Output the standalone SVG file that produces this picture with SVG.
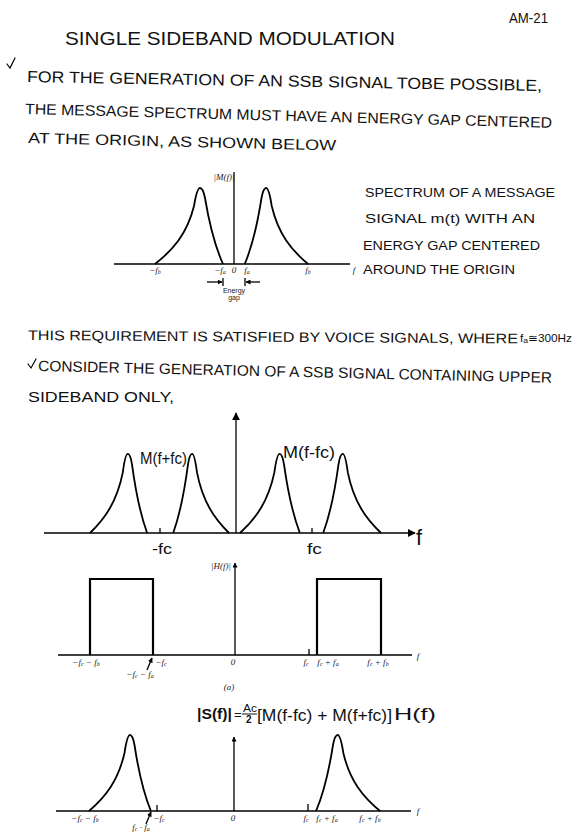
<svg xmlns="http://www.w3.org/2000/svg" width="580" height="838" viewBox="0 0 580 838">
<style>
.hw{font-family:"Liberation Sans","DejaVu Sans",sans-serif;fill:#111;}
.lb{font-family:"Liberation Serif","DejaVu Serif",serif;font-style:italic;font-size:9px;fill:#222;text-anchor:middle;}
.sm{font-family:"Liberation Sans","DejaVu Sans",sans-serif;font-size:7px;fill:#222;text-anchor:middle;}
.ax{stroke:#000;stroke-width:1.3;fill:none;}
.cv{stroke:#000;stroke-width:1.8;fill:none;}
.rc{stroke:#000;stroke-width:2.2;fill:none;}
.ck{stroke:#000;stroke-width:1.2;fill:none;stroke-linecap:round;}
</style>
<defs>
<path id="lobe" vector-effect="non-scaling-stroke" d="M0,0 C18,-14 32,-30 39,-58 C41,-70 43,-76 45,-76 C47,-76 49,-71 50,-66 C53,-48 59,-20 68,0"/>
<marker id="ah" viewBox="0 0 10 10" refX="9" refY="5" markerWidth="8" markerHeight="8" markerUnits="userSpaceOnUse" orient="auto"><path d="M0,0 L10,5 L0,10 z" fill="#000"/></marker>
<marker id="ahs" viewBox="0 0 10 10" refX="9" refY="5" markerWidth="5" markerHeight="5" markerUnits="userSpaceOnUse" orient="auto"><path d="M0,0 L10,5 L0,10 z" fill="#000"/></marker>
</defs>

<g id="header">
<text class="hw" x="509" y="23" font-size="14" textLength="39" lengthAdjust="spacingAndGlyphs">AM-21</text>
<text class="hw" x="65" y="45" font-size="19" textLength="330" lengthAdjust="spacingAndGlyphs">SINGLE SIDEBAND MODULATION</text>
</g>

<g id="intro">
<path class="ck" d="M7,64 L10,68 L15,58"/>
<text class="hw" x="27" y="82" font-size="16" textLength="515" lengthAdjust="spacingAndGlyphs" transform="rotate(1 27 82)">FOR THE GENERATION OF AN SSB SIGNAL TOBE POSSIBLE,</text>
<text class="hw" x="25" y="114" font-size="15" textLength="527" lengthAdjust="spacingAndGlyphs" transform="rotate(1.5 25 114)">THE MESSAGE SPECTRUM MUST HAVE AN ENERGY GAP CENTERED</text>
<text class="hw" x="28" y="143" font-size="15" textLength="308" lengthAdjust="spacingAndGlyphs" transform="rotate(1.4 28 143)">AT THE ORIGIN, AS SHOWN BELOW</text>
</g>

<g id="message-spectrum">
<line class="ax" x1="114" y1="264" x2="350" y2="264"/>
<line class="ax" x1="234" y1="172" x2="234" y2="264"/>
<use href="#lobe" class="cv" transform="translate(155,264)"/>
<use href="#lobe" class="cv" transform="translate(308,264) scale(-0.93,1)"/>
<text class="lb" x="224" y="180">|M(f)|</text>
<text class="lb" x="155" y="273">−f<tspan font-size="6" dy="1">b</tspan></text>
<text class="lb" x="220" y="273">−f<tspan font-size="6" dy="1">a</tspan></text>
<text class="lb" x="234" y="273">0</text>
<text class="lb" x="247" y="273">f<tspan font-size="6" dy="1">a</tspan></text>
<text class="lb" x="308" y="273">f<tspan font-size="6" dy="1">b</tspan></text>
<text class="lb" x="354" y="273">f</text>
<line class="ax" x1="207" y1="282" x2="222" y2="282" stroke-width="0.9" marker-end="url(#ahs)"/>
<line class="ax" x1="223" y1="278" x2="223" y2="286" stroke-width="0.9"/>
<line class="ax" x1="260" y1="282" x2="246" y2="282" stroke-width="0.9" marker-end="url(#ahs)"/>
<line class="ax" x1="245" y1="278" x2="245" y2="286" stroke-width="0.9"/>
<text class="sm" x="234" y="293">Energy</text>
<text class="sm" x="234" y="300">gap</text>
</g>

<g id="spectrum-note">
<text class="hw" x="365" y="197" font-size="12.5" textLength="190" lengthAdjust="spacingAndGlyphs">SPECTRUM OF A MESSAGE</text>
<text class="hw" x="365" y="223" font-size="12.5" textLength="170" lengthAdjust="spacingAndGlyphs">SIGNAL m(t) WITH AN</text>
<text class="hw" x="363" y="250" font-size="12.5" textLength="177" lengthAdjust="spacingAndGlyphs">ENERGY GAP CENTERED</text>
<text class="hw" x="363" y="274" font-size="12.5" textLength="152" lengthAdjust="spacingAndGlyphs">AROUND THE ORIGIN</text>
</g>

<g id="requirement">
<text class="hw" x="28" y="340" font-size="14" textLength="490" lengthAdjust="spacingAndGlyphs" transform="rotate(0.4 28 340)">THIS REQUIREMENT IS SATISFIED BY VOICE SIGNALS, WHERE</text>
<text class="hw" x="520" y="342" font-size="11" textLength="52" lengthAdjust="spacingAndGlyphs">f<tspan font-size="8" dy="1">a</tspan><tspan dy="-1">≅300Hz</tspan></text>
<path class="ck" d="M28,364 L31,368 L36,359"/>
<text class="hw" x="38" y="371" font-size="15" textLength="514" lengthAdjust="spacingAndGlyphs" transform="rotate(1.3 38 371)">CONSIDER THE GENERATION OF A SSB SIGNAL CONTAINING UPPER</text>
<text class="hw" x="28" y="402" font-size="14" textLength="146" lengthAdjust="spacingAndGlyphs">SIDEBAND ONLY,</text>
</g>

<g id="modulated-spectrum">
<line class="ax" x1="44" y1="533" x2="415" y2="533" marker-end="url(#ah)"/>
<line class="ax" x1="236" y1="533" x2="236" y2="413" stroke-width="1.6" marker-end="url(#ah)"/>
<line class="ax" x1="160" y1="528" x2="160" y2="533"/>
<line class="ax" x1="312" y1="528" x2="312" y2="533"/>
<use href="#lobe" class="cv" transform="translate(90,533) scale(0.84,1.04)"/>
<use href="#lobe" class="cv" transform="translate(229,533) scale(-0.82,1.04)"/>
<use href="#lobe" class="cv" transform="translate(240,533) scale(0.88,1.04)"/>
<use href="#lobe" class="cv" transform="translate(381,533) scale(-0.85,1.04)"/>
<text class="hw" x="140" y="464" font-size="16" textLength="47" lengthAdjust="spacingAndGlyphs">M(f+fc)</text>
<text class="hw" x="283" y="458" font-size="16" textLength="52" lengthAdjust="spacingAndGlyphs">M(f-fc)</text>
<text class="hw" x="152" y="554" font-size="14" textLength="20" lengthAdjust="spacingAndGlyphs">-fc</text>
<text class="hw" x="307" y="554" font-size="14" textLength="15" lengthAdjust="spacingAndGlyphs">fc</text>
<text class="hw" x="416" y="545" font-size="22">f</text>
</g>

<g id="filter-response">
<line class="ax" x1="58" y1="655" x2="412" y2="655"/>
<line class="ax" x1="235" y1="655" x2="235" y2="563" marker-end="url(#ahs)"/>
<line class="ax" x1="309" y1="649" x2="309" y2="655"/>
<path class="rc" d="M90,655 V579 H153 V655"/>
<path class="rc" d="M317,655 V579 H381 V655"/>
<text class="lb" x="221" y="569">|H(f)|</text>
<text class="lb" x="86" y="665">−f<tspan font-size="6" dy="1">c</tspan><tspan dy="-1"> − f</tspan><tspan font-size="6" dy="1">b</tspan></text>
<text class="lb" x="140" y="677">−f<tspan font-size="6" dy="1">c</tspan><tspan dy="-1"> − f</tspan><tspan font-size="6" dy="1">a</tspan></text>
<line class="ax" x1="147" y1="670" x2="152" y2="658" stroke-width="0.8" marker-end="url(#ahs)"/>
<text class="lb" x="161" y="665">−f<tspan font-size="6" dy="1">c</tspan></text>
<text class="lb" x="233" y="665">0</text>
<text class="lb" x="306" y="665">f<tspan font-size="6" dy="1">c</tspan></text>
<text class="lb" x="328" y="665">f<tspan font-size="6" dy="1">c</tspan><tspan dy="-1"> + f</tspan><tspan font-size="6" dy="1">a</tspan></text>
<text class="lb" x="378" y="665">f<tspan font-size="6" dy="1">c</tspan><tspan dy="-1"> + f</tspan><tspan font-size="6" dy="1">b</tspan></text>
<text class="lb" x="418" y="659">f</text>
<text class="lb" x="229" y="690" font-size="7">(a)</text>
</g>

<g id="ssb-spectrum">
<text class="hw" x="197" y="719" font-size="15" font-weight="bold" textLength="35" lengthAdjust="spacingAndGlyphs">|S(f)|</text>
<text class="hw" x="234" y="719" font-size="13">=</text>
<text class="hw" x="243" y="712" font-size="10" textLength="14" lengthAdjust="spacingAndGlyphs">Ac</text>
<line x1="242" y1="714" x2="257" y2="714" stroke="#111" stroke-width="1"/>
<text class="hw" x="246" y="723" font-size="10" font-weight="bold">2</text>
<text class="hw" x="257" y="721" font-size="17" textLength="135" lengthAdjust="spacingAndGlyphs">[M(f-fc) + M(f+fc)]</text>
<text class="hw" x="394" y="720" font-size="17" textLength="42" lengthAdjust="spacingAndGlyphs">H(f)</text>
<line class="ax" x1="56" y1="811" x2="411" y2="811"/>
<line class="ax" x1="234" y1="811" x2="234" y2="737" marker-end="url(#ahs)"/>
<line class="ax" x1="308" y1="804" x2="308" y2="811"/>
<line class="ax" x1="157" y1="805" x2="157" y2="811"/>
<use href="#lobe" class="cv" transform="translate(89,811) scale(0.91,1)"/>
<use href="#lobe" class="cv" transform="translate(380,811) scale(-0.94,1)"/>
<text class="lb" x="85" y="821">−f<tspan font-size="6" dy="1">c</tspan><tspan dy="-1"> − f</tspan><tspan font-size="6" dy="1">b</tspan></text>
<text class="lb" x="141" y="830">f<tspan font-size="6" dy="1">c</tspan><tspan dy="-1"> · f</tspan><tspan font-size="6" dy="1">a</tspan></text>
<line class="ax" x1="146" y1="824" x2="151" y2="812" stroke-width="0.8" marker-end="url(#ahs)"/>
<text class="lb" x="159" y="821">−f<tspan font-size="6" dy="1">c</tspan></text>
<text class="lb" x="233" y="821">0</text>
<text class="lb" x="306" y="821">f<tspan font-size="6" dy="1">c</tspan></text>
<text class="lb" x="327" y="821">f<tspan font-size="6" dy="1">c</tspan><tspan dy="-1"> + f</tspan><tspan font-size="6" dy="1">a</tspan></text>
<text class="lb" x="370" y="821">f<tspan font-size="6" dy="1">c</tspan><tspan dy="-1"> + f</tspan><tspan font-size="6" dy="1">b</tspan></text>
<text class="lb" x="418" y="814">f</text>
</g>
</svg>
